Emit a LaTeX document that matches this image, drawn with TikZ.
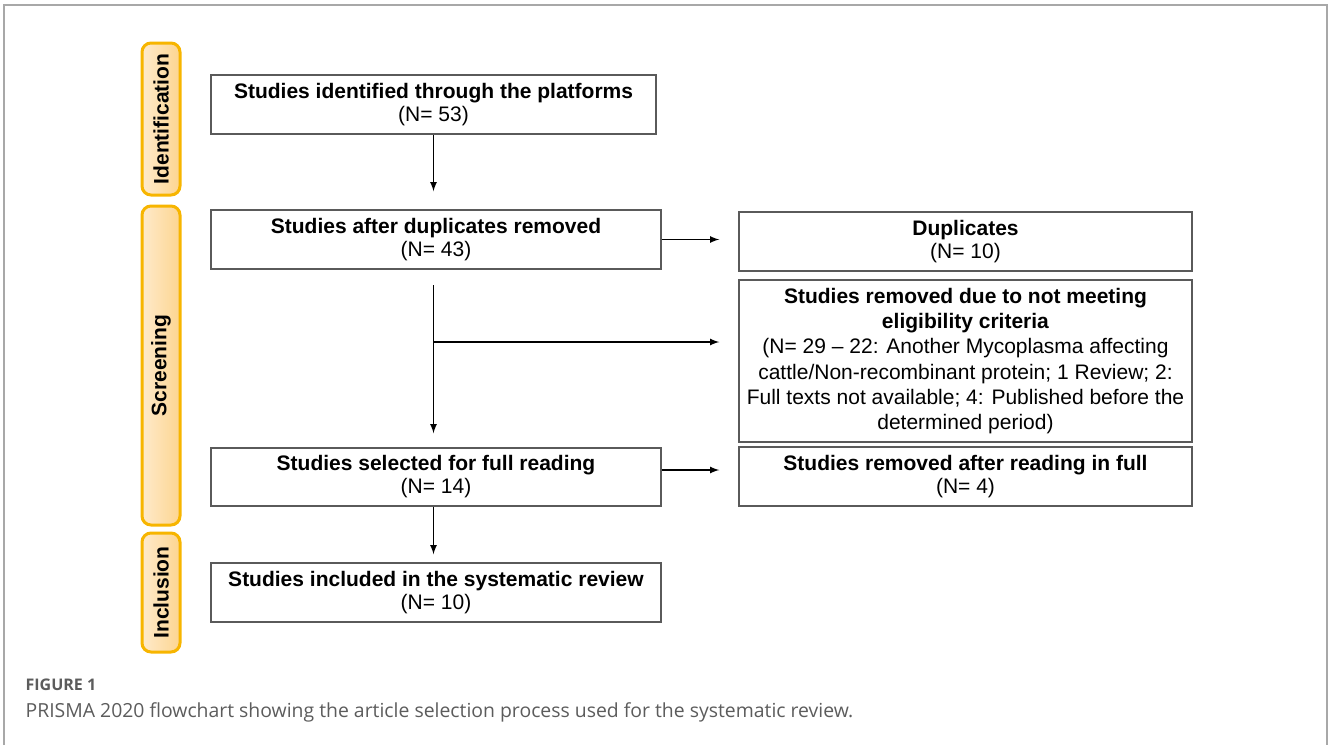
\documentclass[tikz,border=0pt]{standalone}
\usepackage{fontspec}
\setmainfont{Liberation Sans}
\newfontfamily\capfont{Open Sans}
\usetikzlibrary{arrows}
\usepackage{xcolor}
\definecolor{stageline}{HTML}{F7B500}
\definecolor{stagefill}{HTML}{FDD590}
\definecolor{stagelight}{HTML}{FEEACB}
\definecolor{boxline}{HTML}{5A5A5A}
\definecolor{capgray}{HTML}{5C5C5C}
\definecolor{framegray}{HTML}{A8A8A8}

\begin{document}
\begin{tikzpicture}[x=0.5pt,y=-0.5pt,>=latex,line width=0.6pt,
        box/.style={draw=boxline,line width=0.75pt,minimum height=29.5pt,inner sep=0pt,align=center,font=\fontsize{10.5}{11.5}\selectfont},
        leftbox/.style={box,minimum width=225pt},
        rightbox/.style={box,minimum width=226.5pt},
        stage/.style={draw=stageline,line width=1.5pt,rounded corners=4.5pt,left color=stagelight,right color=stagefill,minimum height=19pt,inner sep=0pt,rotate=90,font=\bfseries\fontsize{10.5}{12}\selectfont}]
        \useasboundingbox (0,0) rectangle (1328,745);
        \draw[framegray,line width=1pt] (4,745) -- (4,5) -- (1326.5,5) -- (1326.5,745);
        % stages
        \node[stage,minimum width=76pt] (idstage) at (161,119) {Identification};
        \node[stage,minimum width=159.5pt] (scstage) at (161,365.5) {Screening};
        \node[stage,minimum width=59.5pt] (instage) at (161,592.5) {Inclusion};
        % main column
        \node[leftbox,minimum width=222.5pt] (ident) at (433.5,104.5) {\textbf{Studies identified through the platforms}\\(N= 53)};
        \node[leftbox] (dedup) at (436,239.5) {\textbf{Studies after duplicates removed}\\(N= 43)};
        \node[leftbox,minimum height=29pt] (select) at (436,477) {\textbf{Studies selected for full reading}\\(N= 14)};
        \node[leftbox] (incl) at (436,592.5) {\textbf{Studies included in the systematic review}\\(N= 10)};
        % excluded column
        \node[rightbox] (dup) at (965.5,241.5) {\textbf{Duplicates}\\(N= 10)};
        \node[rightbox,minimum height=81pt,font=\fontsize{10.5}{12.6}\selectfont] (elig) at (965.5,361) {\textbf{Studies removed due to not meeting}\\\textbf{eligibility criteria}\\(N= 29 -- 22: Another Mycoplasma affecting\\cattle/Non-recombinant protein; 1 Review; 2:\\Full texts not available; 4: Published before the\\determined period)};
        \node[rightbox] (fullrm) at (965.5,476.5) {\textbf{Studies removed after reading in full}\\(N= 4)};
        % arrows
        \coordinate (a1) at ([yshift=9pt]ident.south |- dedup.north);
        \draw[->] (ident.south) -- (a1);
        \draw[->,shorten >=9.5pt] (dedup.east) -- (dedup.east -| dup.west);
        \coordinate (v1) at (433.5,285);
        \coordinate (v2) at ([yshift=7pt]v1 |- select.north);
        \coordinate (b1) at (433.5,342);
        \draw[->] (v1) -- (v2);
        \draw[->,shorten >=9.5pt] (b1) -- (b1 -| elig.west);
        \draw[->,shorten >=9.5pt] ([yshift=3.5pt]select.east) -- ([yshift=3.5pt]select.east -| fullrm.west);
        \coordinate (a2) at ([yshift=4pt]incl.north -| ident.south);
        \draw[->] (select.south -| ident.south) -- (a2);
        % caption
        \node[anchor=west,text=capgray,inner sep=0pt,font=\capfont\bfseries\fontsize{8}{9}\selectfont] (figno) at (25,685) {FIGURE 1};
        \node[anchor=west,text=capgray,inner sep=0pt,font=\capfont\fontsize{9.7}{11}\selectfont] (caption) at (25,712) {PRISMA 2020 flowchart showing the article selection process used for the systematic review.};
\end{tikzpicture}
\end{document}
